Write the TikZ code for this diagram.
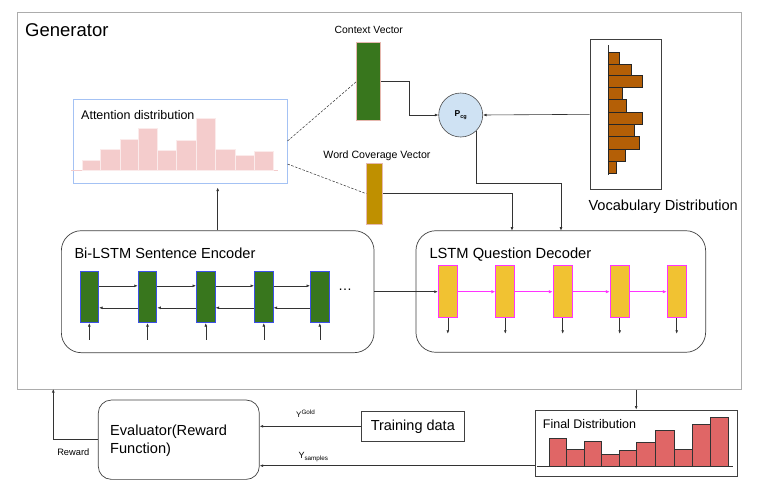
\documentclass[tikz,border=0pt]{standalone}
\usepackage{fontspec}
\setmainfont{Liberation Sans}
\usetikzlibrary{arrows.meta, calc, positioning}
\definecolor{encgreen}{HTML}{38761D}
\definecolor{encblue}{RGB}{60, 80, 230}
\definecolor{decyellow}{HTML}{F1C232}
\definecolor{decpink}{HTML}{FF33FF}
\definecolor{wcgold}{HTML}{BF9000}
\definecolor{vecrim}{HTML}{E6B8AF}
\definecolor{vocbrown}{HTML}{B45F06}
\definecolor{finalred}{HTML}{E06666}
\definecolor{attpink}{HTML}{F4CCCC}
\definecolor{attblue}{HTML}{A4C2F4}
\definecolor{pcgblue}{HTML}{CFE2F3}

\begin{document}
\begin{tikzpicture}[x=1pt, y=-1pt,
		fsz/.style={font=\fontsize{#1}{#1}\selectfont, inner sep=0pt},
		wire/.style={draw=black!80, line width=0.6pt},
		arr/.style={wire, -{Latex[length=3.5pt,width=2.8pt]}},
		box/.style={draw=black!75, line width=0.7pt, inner sep=0pt},
		enccell/.style={draw=encblue, fill=encgreen, line width=0.8pt, minimum width=18.7pt, minimum height=51.7pt, inner sep=0pt},
		deccell/.style={draw=decpink, fill=decyellow, line width=0.9pt, minimum width=19pt, minimum height=52pt, inner sep=0pt}]
	
	\useasboundingbox (0,0) rectangle (766,493);
	
	% Generator
	\node[draw=gray!65, line width=1pt, minimum width=724pt, minimum height=377pt, inner sep=0pt] (gen) at (379,200.5) {};
	\node[fsz=18.5, anchor=base west] (gentitle) at (25,36.7) {Generator};
	
	% Attention distribution
	\node[draw=attblue, line width=1pt, minimum width=214pt, minimum height=84pt, inner sep=0pt] (att) at (180,141) {};
	\node[fsz=12.5, anchor=base west] (atttitle) at (81,119.7) {Attention distribution};
	\draw[attpink, line width=0.8pt] (71,170) -- (277.7,170);
	\foreach \l/\r/\t in {82.7/100.7/160, 100.7/120/149, 120/138.3/139.7, 138.3/157.3/128, 157.3/176.7/150, 176.7/196.7/140.7, 196.7/215/118.3, 215/235/149, 235/254.3/155.3, 254.3/273.3/151.7}
	\draw[fill=attpink, draw=attpink!40!white, line width=0.6pt] (\l,170) rectangle (\r,\t);
	
	% Context and coverage vectors
	\node[draw=vecrim, fill=encgreen, line width=0.8pt, minimum width=24pt, minimum height=78pt, inner sep=0pt] (cv) at (368.7,81.7) {};
	\node[fsz=10.4, anchor=base] (cvtitle) at (368.8,33) {Context Vector};
	\node[draw=vecrim, fill=wcgold, line width=0.8pt, minimum width=16pt, minimum height=60.7pt, inner sep=0pt] (wc) at (374.7,193.7) {};
	\node[fsz=10.6, anchor=base] (wctitle) at (377,158.3) {Word Coverage Vector};
	\draw[wire, dashed, dash pattern=on 2.5pt off 1.5pt, line width=0.5pt] (att.east) -- (cv.west);
	\draw[wire, dashed, dash pattern=on 2.5pt off 1.5pt, line width=0.5pt] ([yshift=-23pt]att.east) -- (wc.west);
	
	% P_cg
	\node[circle, draw=black!70, fill=pcgblue, line width=0.6pt, minimum size=44pt, inner sep=0pt] (pcg) at (460.7,115)
	{\fontsize{8.5}{9}\selectfont\bfseries P\raisebox{-2.2pt}{\fontsize{5.5}{6}\selectfont cg}};
	
	% Vocabulary distribution
	\node[box, minimum width=71.7pt, minimum height=150pt] (voc) at (625.8,114.3) {};
	\draw[black!80, line width=0.6pt] (608.3,45) -- (608.3,175);
	\foreach \t/\b/\r in {52.7/64/619.3, 64/75.7/631.7, 75.7/87.3/642.3, 87.3/99.3/622, 99.3/112/626.7, 112/124/642.3, 124/136.7/634.3, 136.7/149/639.3, 149/161.7/625.3, 161.7/173.3/616}
	\draw[fill=vocbrown, draw=black!85, line width=0.6pt] (608.3,\t) rectangle (\r,\b);
	\node[fsz=14.6, anchor=base west] (voctitle) at (588.3,210.7) {Vocabulary Distribution};
	
	\draw[arr] (cv.east) -- ++(28.6,0) |- (pcg.west);
	\draw[arr] (voc.west) -- (pcg.east);
	
	% Encoder
	\node[box, rounded corners=20pt, minimum width=312.7pt, minimum height=122pt] (enc) at (217.7,291.7) {};
	\node[fsz=14.6, anchor=base west] (enctitle) at (74.3,258.3) {Bi-LSTM Sentence Encoder};
	\foreach \i/\x in {1/89.3, 2/147.5, 3/205.8, 4/263.8, 5/319.8} {
		\node[enccell] (e\i) at (\x,296.8) {};
		\draw[arr] ([yshift=-16.6pt]e\i.south) -- (e\i.south);
	}
	\foreach \i/\j in {1/2, 2/3, 3/4, 4/5} {
		\draw[arr] ([yshift=11pt]e\i.east) -- ([yshift=11pt]e\j.west);
		\draw[arr] ([yshift=-11pt]e\j.west) -- ([yshift=-11pt]e\i.east);
	}
	\node[fsz=14, anchor=base] (dots) at (345,290.5) {\dots};
	\draw[arr, shorten >=4pt] (enc.north) -- (enc.north |- att.south);
	
	% Decoder
	\node[box, rounded corners=20pt, minimum width=289.7pt, minimum height=121.6pt] (dec) at (560.8,291.5) {};
	\node[fsz=14.7, anchor=base west] (dectitle) at (429.3,258.3) {LSTM Question Decoder};
	\foreach \i/\x in {1/447.8, 2/505.3, 3/562.7, 4/619.7, 5/676.7} {
		\node[deccell] (d\i) at (\x,291.7) {};
		\draw[arr] (d\i.south) -- ++(0,15.6);
	}
	\foreach \i/\j in {1/2, 2/3, 3/4, 4/5}
	\draw[decpink, line width=1.1pt, -{Latex[length=4pt,width=3.5pt]}] (d\i.east) -- (d\j.west);
	\draw[arr] (enc.east) -- (d1.west);
	
	\coordinate (decin1) at (512,230.7);
	\coordinate (decin2) at (561,230.7);
	\draw[arr] (wc.east) -| (decin1);
	\draw[arr] (pcg.south east) |- ([yshift=47.4pt]decin2) -- (decin2);
	
	% Evaluator and data
	\node[box, rounded corners=13pt, minimum width=161pt, minimum height=79.3pt] (eval) at (178.8,439.7) {};
	\node[font=\fontsize{14.6}{18.5}\selectfont, inner sep=0pt, align=left, anchor=west] (evaltext) at (110,440.8) {Evaluator(Reward\\Function)};
	\node[box, minimum width=102.3pt, minimum height=29.3pt, fsz=14.5] (train) at (412.8,426.3) {Training data};
	\draw[arr] (train.west) -- (train.west -| eval.east);
	\node[fsz=8, anchor=base west] (ygold) at (296,417.8) {Y\raisebox{3pt}{\fontsize{6.3}{6}\selectfont Gold}};
	
	\coordinate (genrw) at (53.3,389);
	\draw[arr] (eval.west) -| (genrw);
	\node[fsz=9.3] (rwtitle) at (73.3,451.7) {Reward};
	
	% Final distribution
	\node[box, minimum width=202.3pt, minimum height=66.7pt] (final) at (636.2,443.3) {};
	\node[fsz=12.5, anchor=base west] (finaltitle) at (542.7,428.3) {Final Distribution};
	\draw[black!80, line width=0.6pt] (537.3,466) -- (732.7,466);
	\foreach \l/\r/\t in {549/566/438.7, 566/584/449, 584/601/441.7, 601/619/454.3, 619/636.7/450.3, 636.7/655.7/442.3, 655.7/674/430, 674/692.3/449.3, 692.3/710/424.3, 710/728.3/417.3}
	\draw[fill=finalred, draw=black!80, line width=0.6pt] (\l,466) rectangle (\r,\t);
	\draw[arr] (gen.south -| final.north) -- (final.north);
	\draw[arr] ([yshift=-22.4pt]final.west) -- ([yshift=-22.4pt]final.west -| eval.east);
	\node[fsz=9, anchor=base west] (ysamp) at (298.3,458.3) {Y\raisebox{-2.5pt}{\fontsize{6.3}{6}\selectfont samples}};
	
\end{tikzpicture}
\end{document}
